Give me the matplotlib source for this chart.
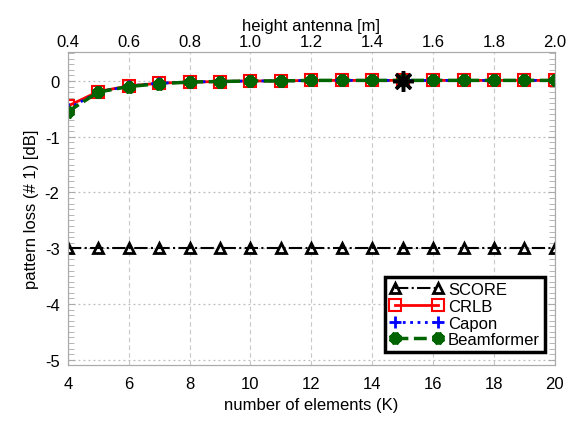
import matplotlib
matplotlib.use('Agg')
import matplotlib.pyplot as plt
import numpy as np
from matplotlib.ticker import MultipleLocator

plt.rcParams['font.family'] = ['Liberation Sans', 'DejaVu Sans']
plt.rcParams['axes.unicode_minus'] = False

K = np.arange(4, 21)
score = [-3.0] * 17
crlb = [-0.45, -0.19, -0.09, -0.04, -0.02, -0.01, 0.0, 0.0, 0.01, 0.01, 0.01, 0.01, 0.01, 0.01, 0.01, 0.01, 0.01]
capon = [-0.5, -0.2, -0.09, -0.04, -0.02, -0.01, 0.0, 0.0, 0.01, 0.01, 0.01, 0.01, 0.01, 0.01, 0.01, 0.01, 0.01]
beam = [-0.55, -0.2, -0.1, -0.05, -0.02, -0.01, 0.0, 0.0, 0.01, 0.01, 0.01, 0.01, 0.01, 0.01, 0.01, 0.01, 0.01]
best_K = 15
best_val = 0.0

height_ticks = [0.4, 0.6, 0.8, 1.0, 1.2, 1.4, 1.6, 1.8, 2.0]

fig = plt.figure(figsize=(5.75, 4.27), dpi=100)
ax = fig.add_axes([0.118, 0.142, 0.847, 0.734])

asterisk = (8, 2, 0)
ax.plot(K, score, color='black', linestyle='-.', marker='^', markerfacecolor='none',
        markeredgewidth=2, markersize=7, linewidth=1.5, label='SCORE')
ax.plot(K, crlb, color='red', linestyle='-', marker='s', markerfacecolor='none',
        markeredgewidth=1.5, markersize=8.5, linewidth=2, label='CRLB')
ax.plot(K, capon, color='blue', linestyle=':', marker='+', markeredgewidth=2,
        markersize=9, linewidth=2, label='Capon')
ax.plot(K, beam, color='#006400', linestyle='--', marker=asterisk, markeredgewidth=4,
        markersize=8.5, linewidth=2.5, label='Beamformer')
ax.plot([best_K], [best_val], color='black', marker=asterisk, markersize=15,
        markeredgewidth=2.5, linestyle='none')

ax.set_xlim(4, 20)
ax.set_ylim(-5.1, 0.52)
ax.set_xticks(np.arange(4, 21, 2))
ax.set_yticks([0, -1, -2, -3, -4, -5])
ax.yaxis.set_minor_locator(MultipleLocator(0.1))
ax.tick_params(which='both', direction='in', color='#aaaaaa', right=True, labelsize=12)
ax.tick_params(which='minor', length=4)
ax.tick_params(axis='x', which='major', length=0, pad=8)
ax.tick_params(axis='y', which='major', length=5, pad=6)
for s in ax.spines.values():
    s.set_color('#aaaaaa')
ax.xaxis.grid(True, linestyle=(0, (4, 3)), color='#c8c8c8', linewidth=0.8)
ax.yaxis.grid(True, linestyle=(0, (1.5, 2.5)), color='#bbbbbb', linewidth=0.9)
ax.set_xlabel('number of elements (K)', fontsize=12)
ax.set_ylabel('pattern loss (# 1) [dB]', fontsize=12)

top = ax.twiny()
top.set_xlim(0.4, 2.0)
top.set_xticks(height_ticks)
top.set_xticklabels(['%.1f' % h for h in height_ticks])
top.tick_params(length=0, labelsize=12, pad=2)
for s in top.spines.values():
    s.set_color('#aaaaaa')
top.set_xlabel('height antenna [m]', fontsize=12, labelpad=3)

leg = ax.legend(loc='lower right', fontsize=12, fancybox=False, framealpha=1,
                edgecolor='black', handlelength=3.2, borderpad=0.3, numpoints=2,
                labelspacing=0.1, handletextpad=0.3, bbox_to_anchor=(0.997, 0.015))
leg.get_frame().set_linewidth(2.5)

fig.savefig('out.png', dpi=100)
